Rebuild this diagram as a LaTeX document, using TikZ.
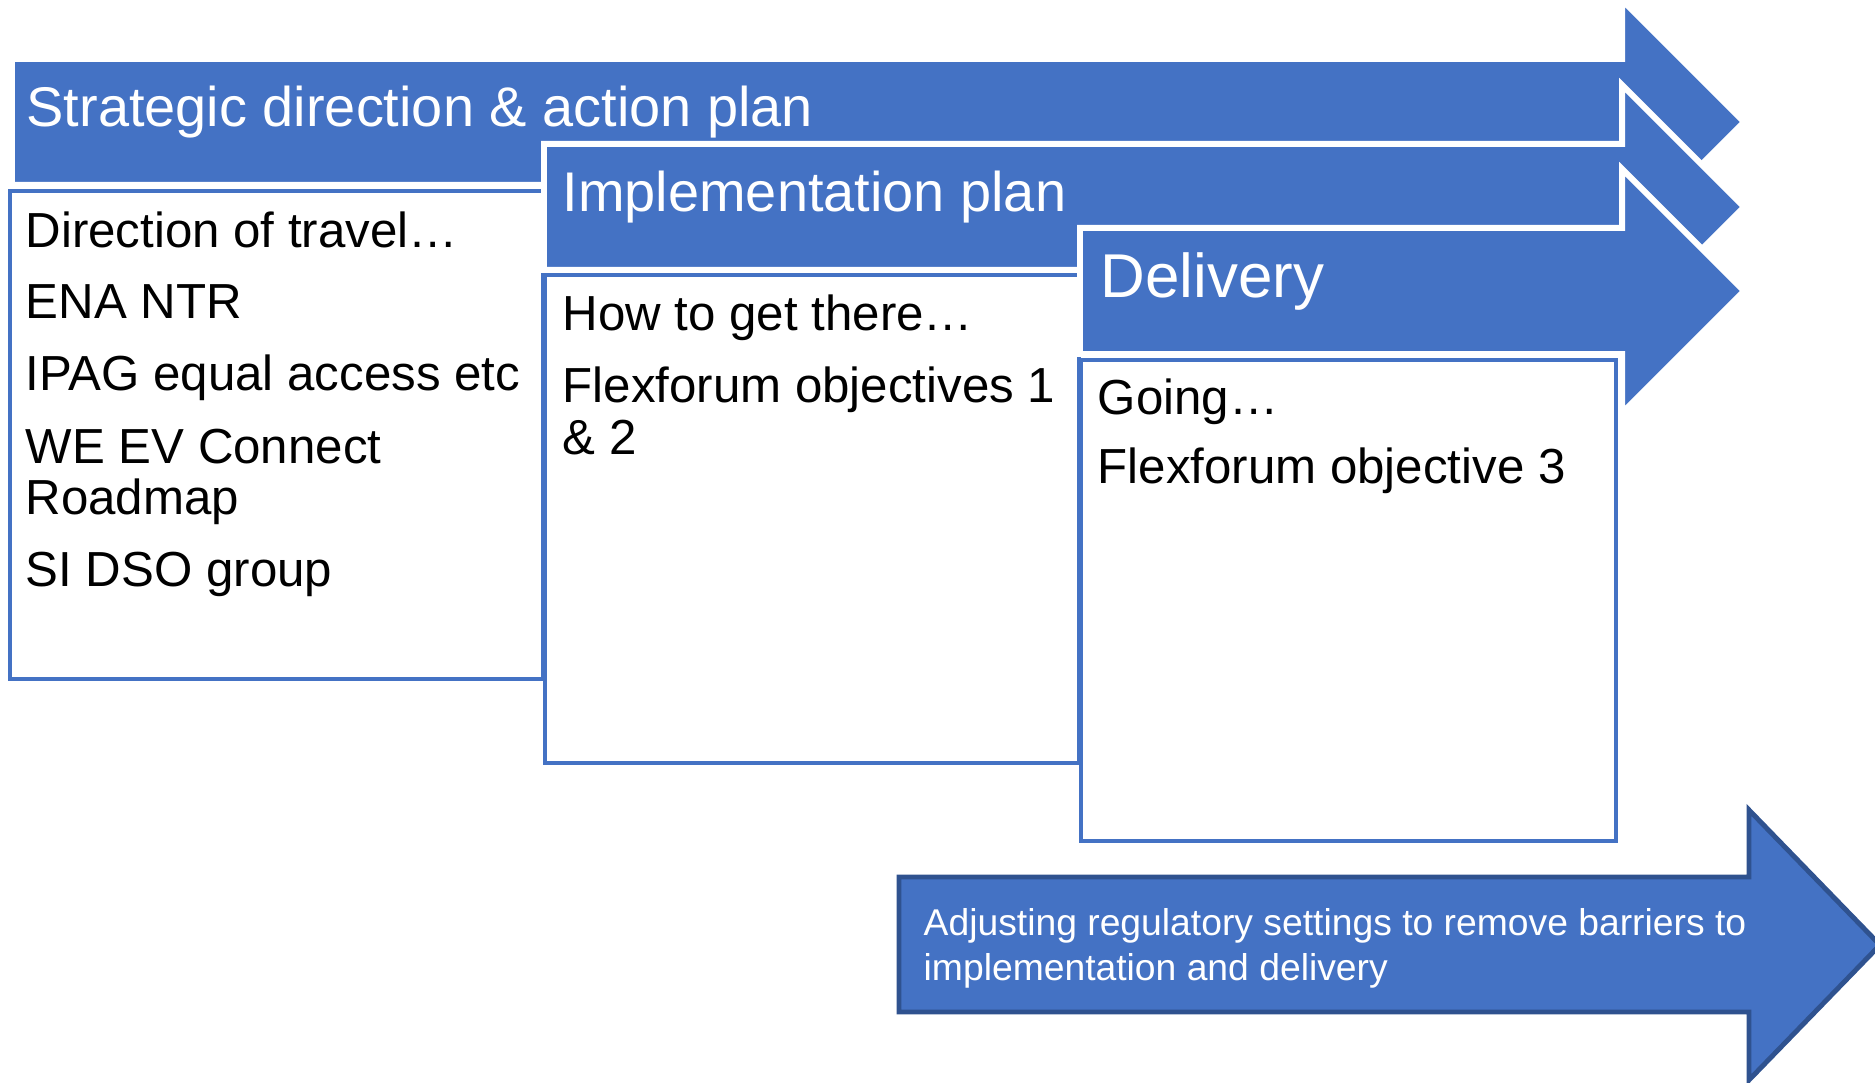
\documentclass[tikz,border=0pt]{standalone}
\usepackage{fontspec}
\setmainfont{Liberation Sans}
\definecolor{barblue}{HTML}{4472C4}
\definecolor{edgeblue}{HTML}{2F528F}
\tikzset{
  bar/.style={fill=barblue, draw=white, line width=1.7pt},
  card/.style={fill=white, draw=barblue, line width=1.4pt},
  heading/.style={anchor=base west, inner sep=0pt, text=white, font=\fontsize{15.9}{19}\selectfont},
  item/.style={anchor=base west, inner sep=0pt, align=left, font=\fontsize{14}{14.65}\selectfont},
}
\begin{document}
\begin{tikzpicture}[x=0.01cm, y=-0.01cm]
        \useasboundingbox (0,0) rectangle (1875,1083);

        % Strategic direction
        \draw[bar] (12,59) -- (1622,59) -- (1622,0) -- (1744,122) -- (1622,244) -- (1622,185) -- (12,185) -- cycle;
        \node[heading] (strategic) at (26,127) {Strategic direction \& action plan};
        \draw[card] (10,191) rectangle (543,679);
        \node[item] (travel) at (25,247.5) {Direction of travel…};
        \node[item] (ena) at (25,319) {ENA NTR};
        \node[item] (ipag) at (25,390.5) {IPAG equal access etc};
        % base of a two-line node = last line
        \node[item] (weev) at (25,515) {WE EV Connect\\Roadmap};
        \node[item] (sidso) at (25,587) {SI DSO group};

        % Implementation plan
        \draw[bar] (544,144) -- (1622,144) -- (1622,85) -- (1744,207) -- (1622,329) -- (1622,270) -- (544,270) -- cycle;
        \node[heading] (implementation) at (562,212) {Implementation plan};
        \draw[card] (545,275) rectangle (1079,763);
        \node[item] (howto) at (562,331) {How to get there…};
        \node[item] (objonetwo) at (562,454.5) {Flexforum objectives 1\\\& 2};

        % Delivery
        \draw[bar] (1080,228) -- (1622,228) -- (1622,169) -- (1744,291) -- (1622,413) -- (1622,354) -- (1080,354) -- cycle;
        \node[heading, font=\fontsize{17.6}{21}\selectfont] (delivery) at (1100,298) {Delivery};
        \draw[card] (1081,360) rectangle (1616,841);
        \node[item] (going) at (1097,415) {Going…};
        \node[item] (objthree) at (1097,484) {Flexforum objective 3};

        % Regulatory arrow
        \draw[fill=barblue, draw=edgeblue, line width=1.4pt] (899,877) -- (1749,877) -- (1749,810) -- (1880,945) -- (1749,1080) -- (1749,1012) -- (899,1012) -- cycle;
        \node[item, text=white, font=\fontsize{10.6}{12.8}\selectfont] (regulatory) at (923,981) {Adjusting regulatory settings to remove barriers to\\implementation and delivery};

\end{tikzpicture}
\end{document}
